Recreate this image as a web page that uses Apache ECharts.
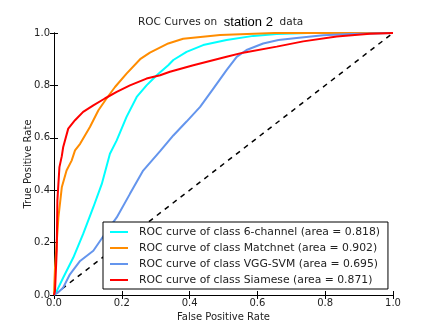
<!DOCTYPE html>
<html><head><meta charset="utf-8">
<script src="https://cdn.jsdelivr.net/npm/echarts@6/dist/echarts.min.js"></script>
<style>html,body{margin:0;padding:0;background:#fff}#c{width:436px;height:327px}</style>
</head><body><div id="c"></div>
<script>
const xTicks = [0, 0.2, 0.4, 0.6, 0.8, 1.0];
const yTicks = [0, 0.2, 0.4, 0.6, 0.8, 1.0];
const names = [
  'ROC curve of class 6-channel (area = 0.818)',
  'ROC curve of class Matchnet (area = 0.902)',
  'ROC curve of class VGG-SVM (area = 0.695)',
  'ROC curve of class Siamese (area = 0.871)'
];
const colors = ['#00ffff', '#ff8c00', '#6495ed', '#ff0000'];
const fprCyan = [0, 0.008, 0.027, 0.057, 0.086, 0.116, 0.141, 0.165, 0.185, 0.214, 0.244, 0.273, 0.303, 0.337, 0.352, 0.391, 0.44, 0.509, 0.588, 0.657, 0.75, 1];
const tprCyan = [0, 0.015, 0.066, 0.143, 0.233, 0.335, 0.424, 0.539, 0.59, 0.68, 0.756, 0.8, 0.839, 0.877, 0.897, 0.928, 0.954, 0.973, 0.989, 0.996, 1, 1];
const fprOrange = [0, 0.001, 0.003, 0.013, 0.023, 0.037, 0.052, 0.062, 0.077, 0.106, 0.131, 0.155, 0.18, 0.214, 0.254, 0.283, 0.337, 0.381, 0.49, 0.65, 1];
const tprOrange = [0, 0.04, 0.105, 0.296, 0.411, 0.475, 0.513, 0.552, 0.577, 0.641, 0.705, 0.75, 0.794, 0.845, 0.9, 0.925, 0.96, 0.978, 0.992, 1, 1];
const fprBlue = [0, 0.01, 0.027, 0.047, 0.077, 0.116, 0.15, 0.185, 0.224, 0.263, 0.313, 0.352, 0.391, 0.431, 0.47, 0.509, 0.539, 0.568, 0.617, 0.662, 0.716, 0.794, 0.873, 1];
const tprBlue = [0, 0.008, 0.028, 0.079, 0.13, 0.169, 0.233, 0.296, 0.386, 0.475, 0.549, 0.609, 0.662, 0.718, 0.788, 0.858, 0.909, 0.935, 0.96, 0.973, 0.981, 0.991, 0.996, 1];
const fprRed = [0, 0.003, 0.008, 0.01, 0.016, 0.023, 0.027, 0.042, 0.062, 0.086, 0.116, 0.15, 0.185, 0.224, 0.273, 0.313, 0.342, 0.411, 0.509, 0.558, 0.657, 0.735, 0.834, 0.932, 1];
const tprRed = [0, 0.015, 0.169, 0.36, 0.488, 0.53, 0.564, 0.635, 0.667, 0.699, 0.724, 0.75, 0.775, 0.8, 0.826, 0.839, 0.852, 0.877, 0.909, 0.925, 0.948, 0.968, 0.987, 0.997, 1];
const diagX = [0, 1];
const diagY = [0, 1];

const zip = (a, b) => a.map((v, i) => [v, b[i]]);
const F = 'DejaVu Sans';
const txt = {fontFamily: F, fontSize: 10, color: '#222'};
const chart = echarts.init(document.getElementById('c'));
const mkSeries = (name, color, x, y) => ({
  name, type: 'line', data: zip(x, y), showSymbol: false, symbol: 'none',
  lineStyle: {color, width: 2}, itemStyle: {color}, animation: false, z: 3
});
const axisCommon = {
  type: 'value', min: 0, max: 1, interval: 0.2,
  axisLine: {lineStyle: {color: '#000', width: 1}},
  axisTick: {inside: true, length: 4, lineStyle: {color: '#000'}},
  splitLine: {show: false}
};
chart.setOption({
  animation: false,
  backgroundColor: '#fff',
  title: {
    text: '{a|ROC Curves on  }{b|station 2}{a|  data}',
    left: 138, top: 16, padding: 0,
    textStyle: {fontFamily: F, fontSize: 10.5, fontWeight: 'normal', rich: {
      a: {fontFamily: F, fontSize: 10.5, color: '#222', fontWeight: 'normal'},
      b: {fontFamily: 'Liberation Sans', fontSize: 13, color: '#000', fontWeight: 'normal'}}}
  },
  grid: {left: 54, right: 43, top: 33, bottom: 32},
  xAxis: [
    Object.assign({}, axisCommon, {position: 'bottom', name: 'False Positive Rate', nameLocation: 'middle', nameGap: 17,
      nameMoveOverlap: false,
      nameTextStyle: txt, axisLabel: Object.assign({}, txt, {margin: 3, formatter: v => v.toFixed(1)})}),
    Object.assign({}, axisCommon, {position: 'top', axisLabel: {show: false}})
  ],
  yAxis: [
    Object.assign({}, axisCommon, {position: 'left', name: 'True Positive Rate', nameLocation: 'middle', nameGap: 21,
      nameMoveOverlap: false,
      nameTextStyle: txt, axisLabel: Object.assign({}, txt, {margin: 4, formatter: v => v.toFixed(1)})}),
    Object.assign({}, axisCommon, {position: 'right', axisLabel: {show: false}})
  ],
  legend: {
    data: names, orient: 'vertical', left: 103, top: 222,
    backgroundColor: '#fff', borderColor: '#000', borderWidth: 1, borderRadius: 0,
    padding: [4, 8, 3, 7], itemGap: 4, itemWidth: 18, itemHeight: 2, icon: 'rect',
    textStyle: Object.assign({}, txt, {fontSize: 10.8, lineHeight: 12, padding: [0, 0, 0, 6]})
  },
  series: [
    {name: 'diag', type: 'line', data: zip(diagX, diagY), showSymbol: false, symbol: 'none',
      lineStyle: {color: '#000', width: 1.5, type: [5, 5]}, z: 2},
    mkSeries(names[0], colors[0], fprCyan, tprCyan),
    mkSeries(names[1], colors[1], fprOrange, tprOrange),
    mkSeries(names[2], colors[2], fprBlue, tprBlue),
    mkSeries(names[3], colors[3], fprRed, tprRed)
  ]
});
</script></body></html>
